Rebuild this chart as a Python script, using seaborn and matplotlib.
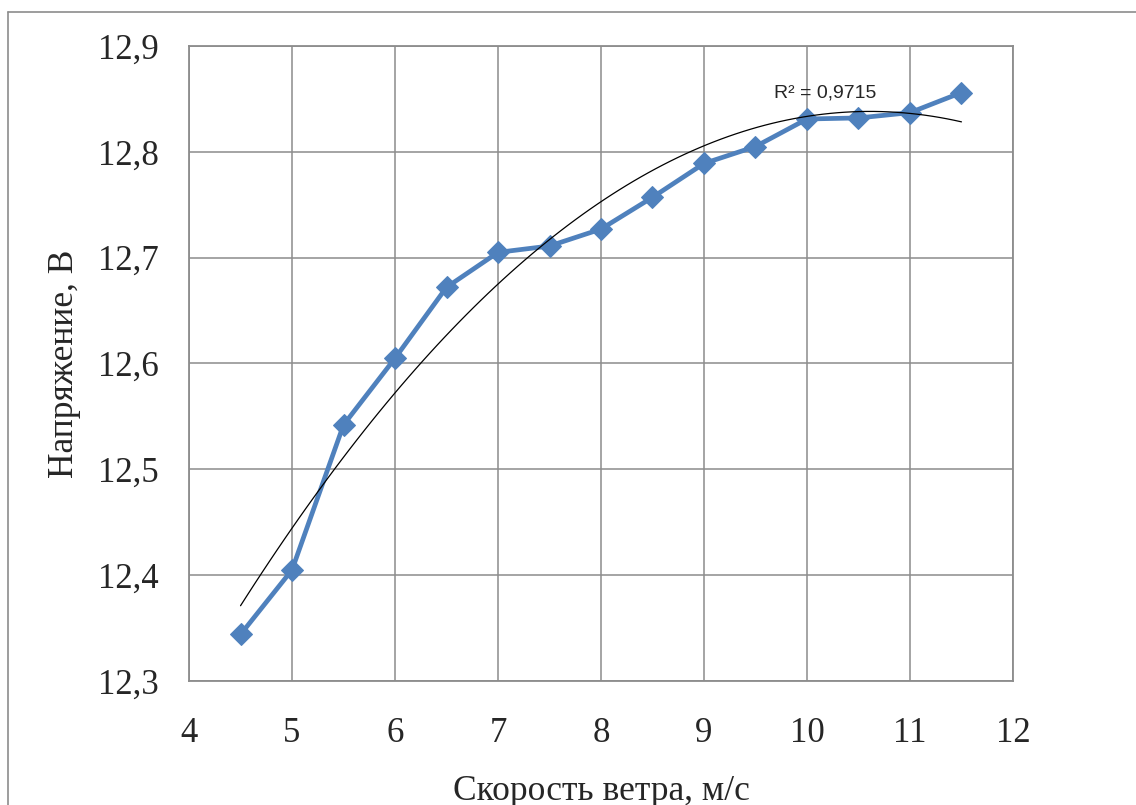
import matplotlib
matplotlib.use("Agg")
from matplotlib import pyplot as plt
from matplotlib.lines import Line2D
import seaborn as sns
import pandas as pd
import numpy as np

# wind speed, m/s
speed = [4.5, 5.0, 5.5, 6.0, 6.5, 7.0, 7.5, 8.0, 8.5, 9.0, 9.5, 10.0, 10.5, 11.0, 11.5]
# voltage, V
voltage = [12.344, 12.405, 12.542, 12.605, 12.672, 12.705, 12.711, 12.727,
           12.757, 12.789, 12.805, 12.831, 12.832, 12.837, 12.856]

xTicks = [4, 5, 6, 7, 8, 9, 10, 11, 12]
yTicks = [12.3, 12.4, 12.5, 12.6, 12.7, 12.8, 12.9]
yTickLabels = ["12,3", "12,4", "12,5", "12,6", "12,7", "12,8", "12,9"]
r2Label = "R² = 0,9715"

df = pd.DataFrame({"speed": speed, "voltage": voltage})

sns.set_style("white")
plt.rcParams["font.family"] = ["Liberation Serif", "DejaVu Serif"]

fig, ax = plt.subplots(figsize=(11.36, 8.05), dpi=100)
fig.subplots_adjust(left=0.1664, right=0.8917, top=0.9429, bottom=0.154)

# data line
sns.lineplot(data=df, x="speed", y="voltage", ax=ax, color="#4F81BD", linewidth=3.4,
             marker="D", markersize=11, markeredgecolor="#4F81BD", zorder=3)
# 2nd order polynomial trendline
sns.regplot(data=df, x="speed", y="voltage", ax=ax, order=2, ci=None, scatter=False,
            truncate=True, line_kws={"color": "black", "linewidth": 0.9, "zorder": 4})

ax.set_xlim(4, 12)
ax.set_ylim(12.3, 12.9)
ax.set_xticks(xTicks)
ax.set_xticklabels([str(t) for t in xTicks])
ax.set_yticks(yTicks)
ax.set_yticklabels(yTickLabels)
ax.tick_params(axis="both", length=0, labelsize=25)
ax.tick_params(axis="x", pad=26)
ax.tick_params(axis="y", pad=22)
ax.grid(True, color="#8c8c8c", linewidth=1.1)
for s in ax.spines.values():
    s.set_color("#8c8c8c")
    s.set_linewidth(1.3)

ax.set_xlabel("Скорость ветра, м/с", fontsize=25.5, labelpad=18)
ax.set_ylabel("Напряжение, В", fontsize=25.5, labelpad=12)

ax.text(9.68, 12.856, r2Label, fontsize=14, family=["Liberation Sans", "DejaVu Sans"],
        va="center", ha="left", zorder=5)

# outer chart border (left and top edges visible)
fig.add_artist(Line2D([8 / 1136, 8 / 1136], [0, 1 - 12 / 805], transform=fig.transFigure,
                      color="#8c8c8c", linewidth=1.2))
fig.add_artist(Line2D([8 / 1136, 1], [1 - 12 / 805, 1 - 12 / 805], transform=fig.transFigure,
                      color="#8c8c8c", linewidth=1.2))

plt.savefig("out.png", dpi=100)
